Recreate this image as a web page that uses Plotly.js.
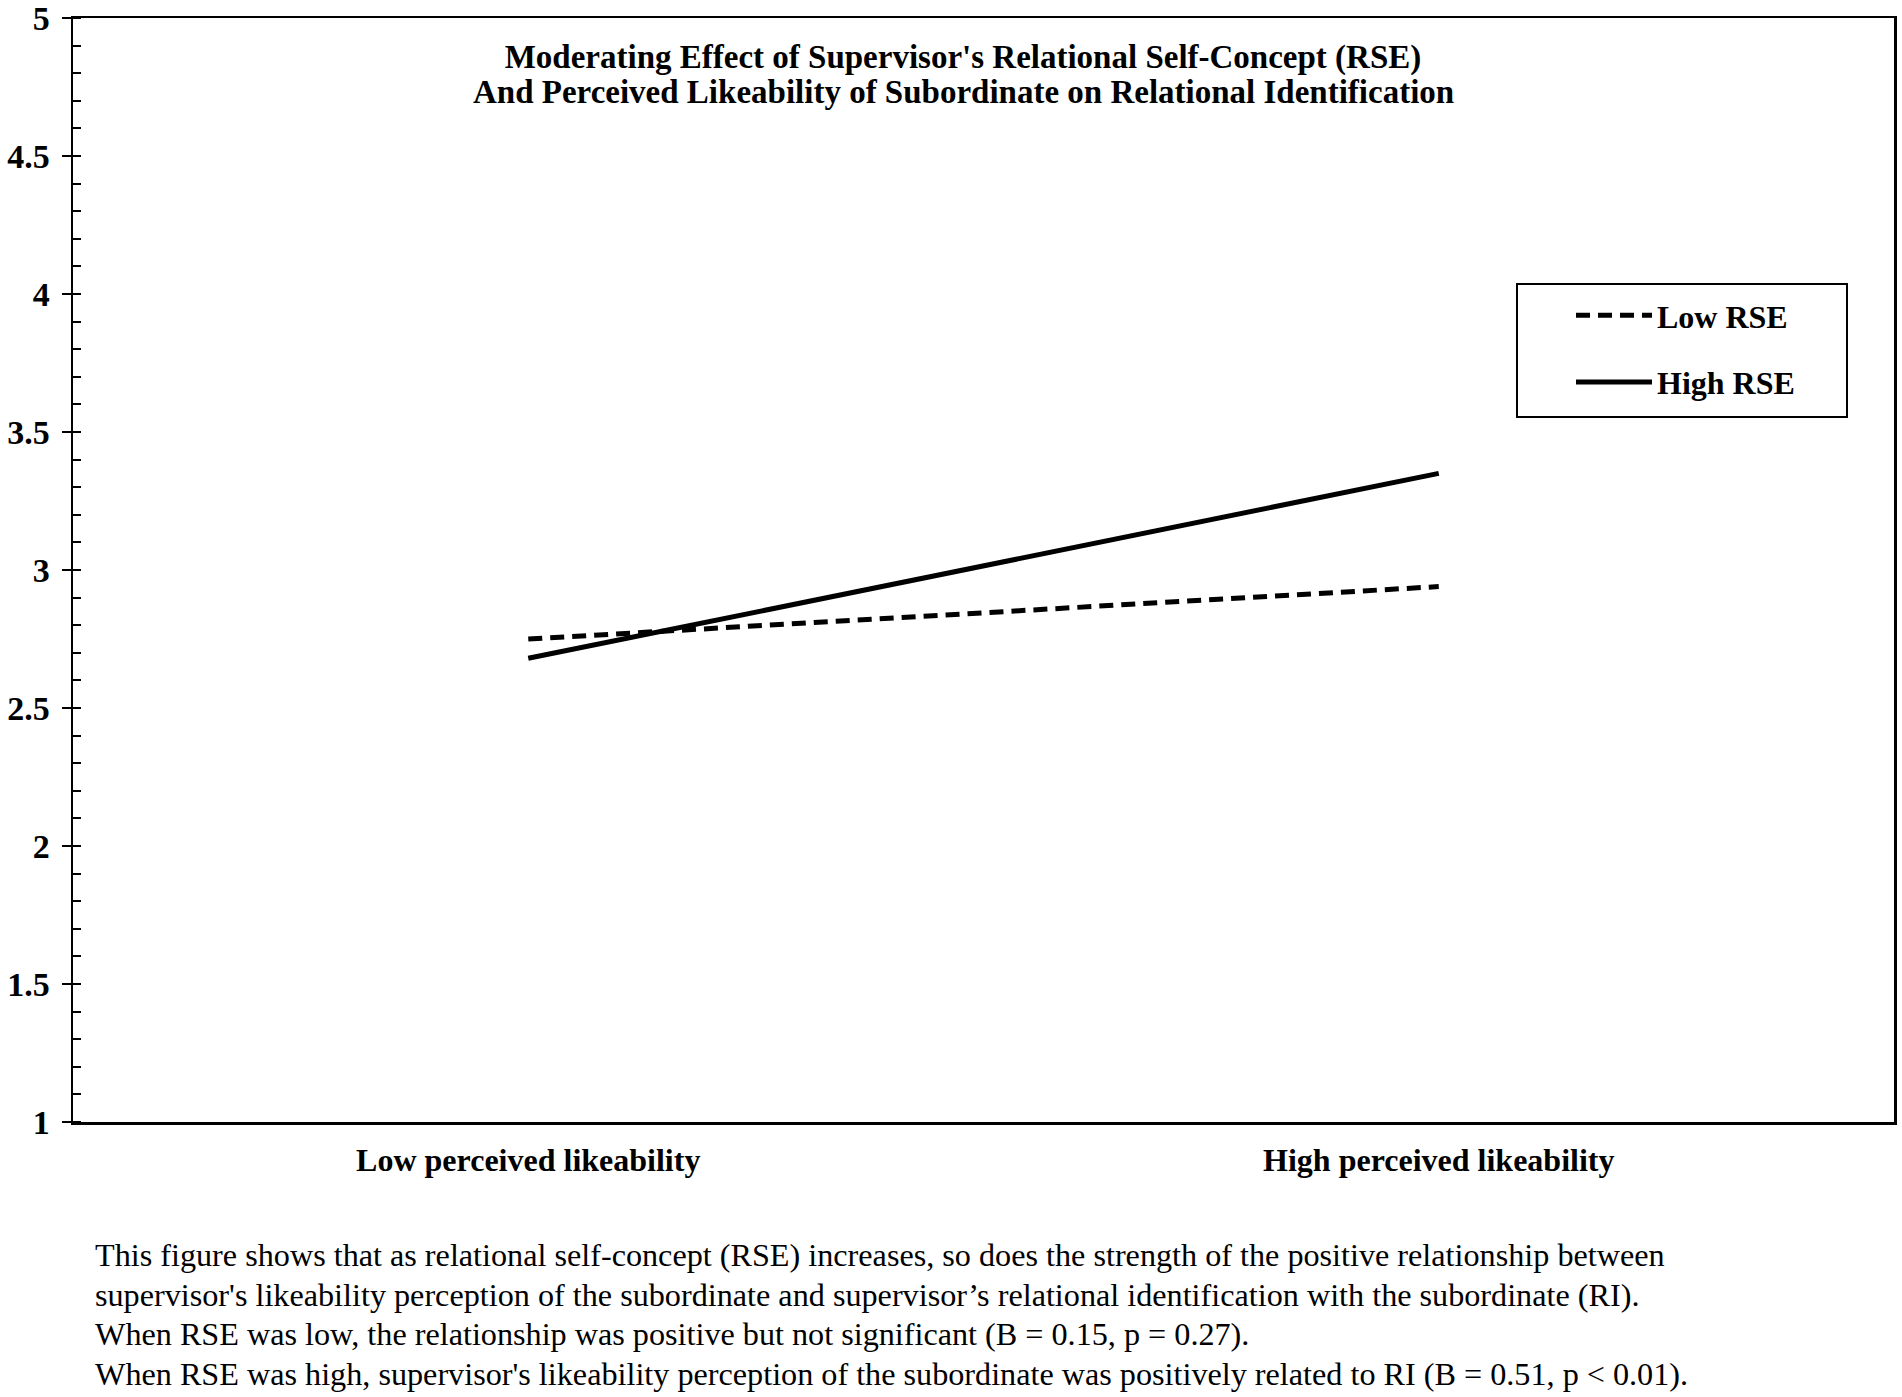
<!DOCTYPE html>
<html>
<head>
<meta charset="utf-8">
<script src="https://cdn.plot.ly/plotly-3.0.1.min.js"></script>
<style>
html,body{margin:0;padding:0;background:#fff;}
#chart{width:1902px;height:1397px;}
</style>
</head>
<body>
<div id="chart"></div>
<script>
const categories = ['Low perceived likeability', 'High perceived likeability'];
const lowRSE = [2.75, 2.94];
const highRSE = [2.68, 3.35];
const seriesNames = ['Low RSE', 'High RSE'];
const yTickVals = [1, 1.5, 2, 2.5, 3, 3.5, 4, 4.5, 5];
const yTickText = ['1', '1.5', '2', '2.5', '3', '3.5', '4', '4.5', '5'];
const titleLines = [
  "Moderating Effect of Supervisor's Relational Self-Concept (RSE)",
  "And Perceived Likeability of Subordinate on Relational Identification"
];
const captionLines = [
  "This figure shows that as relational self-concept (RSE) increases, so does the strength of the positive relationship between",
  "supervisor's likeability perception of the subordinate and supervisor\u2019s relational identification with the subordinate (RI).",
  "When RSE was low, the relationship was positive but not significant (B = 0.15, p = 0.27).",
  "When RSE was high, supervisor's likeability perception of the subordinate was positively related to RI (B = 0.51, p < 0.01)."
];

const serif = 'Liberation Serif, Times New Roman, serif';

const traces = [
  {x: categories, y: lowRSE, name: seriesNames[0], type: 'scatter', mode: 'lines',
   legendgroup: 'a',
   line: {color: '#000', width: 5, dash: '14px,8px'}},
  {x: categories, y: highRSE, name: seriesNames[1], type: 'scatter', mode: 'lines',
   legendgroup: 'b',
   line: {color: '#000', width: 5}}
];

const W = 1902, H = 1397;
const margin = {l: 73, r: 8, t: 18, b: 275};
const plotH = H - margin.t - margin.b;
const plotW = W - margin.l - margin.r;
const px = v => (v - margin.l) / plotW;
const py = v => 1 - (v - margin.t) / plotH;

const annotations = captionLines.map((t, i) => ({
  text: t, xref: 'paper', yref: 'paper',
  x: px(93), xanchor: 'left',
  y: py(1255 + i * 39.7), yanchor: 'middle',
  showarrow: false, align: 'left',
  font: {family: serif, size: 32.2, color: '#000'}
}));
annotations.push({
  text: '<b>' + titleLines[1] + '</b>', xref: 'paper', yref: 'paper',
  x: px(963), xanchor: 'center', y: py(92), yanchor: 'middle',
  showarrow: false,
  font: {family: serif, size: 33, color: '#000'}
});

const layout = {
  width: W, height: H,
  margin: margin,
  paper_bgcolor: '#fff', plot_bgcolor: '#fff',
  showlegend: true,
  title: {
    text: '<b>' + titleLines[0] + '</b>',
    xref: 'paper', yref: 'paper', x: px(963), xanchor: 'center',
    y: py(56), yanchor: 'middle',
    font: {family: serif, size: 33, color: '#000'}
  },
  xaxis: {
    type: 'category', range: [-0.5, 1.5],
    showline: true, linecolor: '#000', linewidth: 2.5, mirror: true,
    ticks: '', showgrid: false, zeroline: false,
    tickfont: {family: serif, size: 32, color: '#000', weight: 'bold'},
    ticklabelstandoff: 8
  },
  yaxis: {
    range: [1, 5], tickvals: yTickVals, ticktext: yTickText,
    showline: true, linecolor: '#000', linewidth: 2.5, mirror: true,
    ticks: 'outside', ticklen: 9, tickwidth: 2.5, tickcolor: '#000',
    minor: {ticks: 'inside', dtick: 0.1, ticklen: 8, tickwidth: 2, tickcolor: '#000', showgrid: false},
    showgrid: false, zeroline: false,
    tickfont: {family: serif, size: 34, color: '#000', weight: 'bold'},
    ticklabelstandoff: 5, ticklabeloverflow: 'allow'
  },
  yaxis2: {
    range: [1, 5], overlaying: 'y', anchor: 'x', side: 'left',
    tickvals: yTickVals, showticklabels: false,
    ticks: 'inside', ticklen: 8, tickwidth: 2.5, tickcolor: '#000',
    showline: false, showgrid: false, zeroline: false
  },
  legend: {
    x: px(1571), xanchor: 'left',
    y: py(288), yanchor: 'top',
    borderwidth: 0, bgcolor: 'rgba(0,0,0,0)',
    font: {family: serif, size: 32, color: '#000', weight: 'bold'},
    tracegroupgap: 22, itemwidth: 76
  },
  shapes: [{
    type: 'rect', xref: 'paper', yref: 'paper',
    x0: px(1517), x1: px(1847), y0: py(284), y1: py(417),
    line: {color: '#000', width: 2}, fillcolor: 'rgba(0,0,0,0)', layer: 'above'
  }],
  annotations: annotations
};

Plotly.newPlot('chart', traces, layout, {displayModeBar: false, staticPlot: true});
</script>
</body>
</html>
